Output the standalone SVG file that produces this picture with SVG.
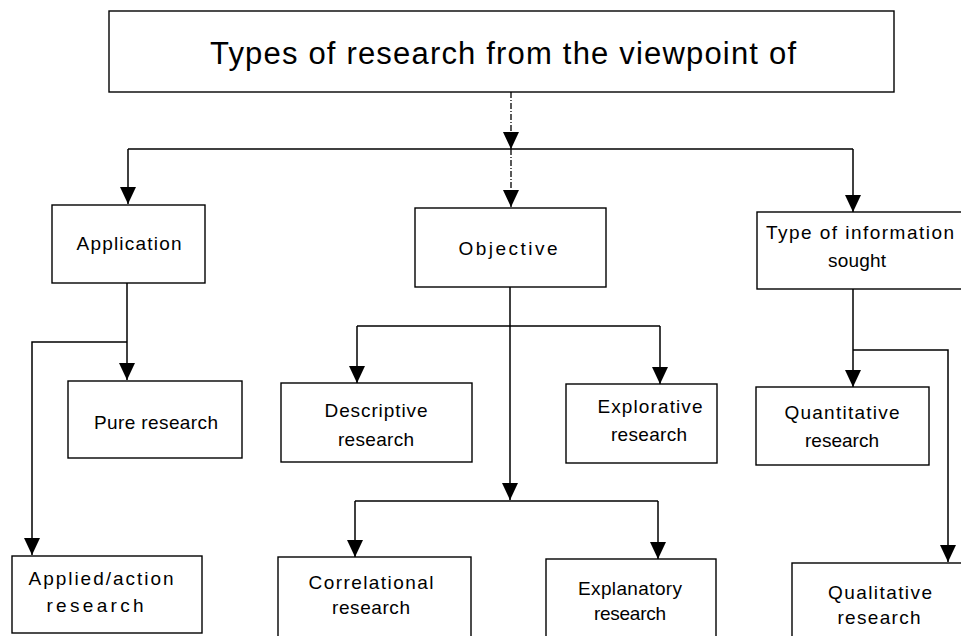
<svg xmlns="http://www.w3.org/2000/svg" width="961" height="636" viewBox="0 0 961 636">
<style>
.box{fill:#fff;stroke:#000;stroke-width:1.4}
.t{font-family:"Liberation Sans",Arial,sans-serif;font-size:19px;fill:#000;text-anchor:middle}
.title{font-family:"Liberation Sans",Arial,sans-serif;font-size:31px;fill:#000}
.c{fill:none;stroke:#000;stroke-width:1.5}
.d{fill:none;stroke:#000;stroke-width:1.3;stroke-dasharray:6 2 1 2}
</style>
<defs>
<marker id="ah" markerUnits="userSpaceOnUse" markerWidth="18" markerHeight="18" viewBox="0 0 18 18" refX="17" refY="9" orient="auto">
<path d="M0,1 L17,9 L0,17 Z" fill="#000"/>
</marker>
</defs>
<rect width="961" height="636" fill="#fff"/>
<g id="connectors">
<path class="d" d="M511,92 V149" marker-end="url(#ah)"/>
<path class="c" d="M128,149 H853"/>
<path class="c" d="M128,149 V204" marker-end="url(#ah)"/>
<path class="d" d="M511,149 V207" marker-end="url(#ah)"/>
<path class="c" d="M853,149 V212" marker-end="url(#ah)"/>
<path class="c" d="M127,283 V380" marker-end="url(#ah)"/>
<path class="c" d="M127,342 H32 V555" marker-end="url(#ah)"/>
<path class="c" d="M510,287 V500" marker-end="url(#ah)"/>
<path class="c" d="M357,326 H660"/>
<path class="c" d="M357,326 V383" marker-end="url(#ah)"/>
<path class="c" d="M660,326 V384" marker-end="url(#ah)"/>
<path class="c" d="M355,501 H658"/>
<path class="c" d="M355,501 V557" marker-end="url(#ah)"/>
<path class="c" d="M658,501 V559" marker-end="url(#ah)"/>
<path class="c" d="M853,289 V387" marker-end="url(#ah)"/>
<path class="c" d="M853,350 H948 V562" marker-end="url(#ah)"/>
</g>
<g id="title">
<rect class="box" x="109" y="11" width="785" height="81"/>
<text class="title" x="210" y="64" textLength="586" lengthAdjust="spacing">Types of research from the viewpoint of</text>
</g>
<g id="application">
<rect class="box" x="52" y="205" width="153" height="78"/>
<text class="t" x="129" y="250" textLength="105" lengthAdjust="spacing">Application</text>
</g>
<g id="objective">
<rect class="box" x="415" y="208" width="191" height="79"/>
<text class="t" x="508" y="255" textLength="99" lengthAdjust="spacing">Objective</text>
</g>
<g id="typeinfo">
<rect class="box" x="757" y="212" width="210" height="77"/>
<text class="t" x="860" y="239" textLength="188" lengthAdjust="spacing">Type of information</text>
<text class="t" x="857" y="267" textLength="58" lengthAdjust="spacing">sought</text>
</g>
<g id="pure">
<rect class="box" x="68" y="381" width="174" height="77"/>
<text class="t" x="156" y="429" textLength="124" lengthAdjust="spacing">Pure research</text>
</g>
<g id="descriptive">
<rect class="box" x="281" y="383" width="191" height="79"/>
<text class="t" x="376" y="417" textLength="103" lengthAdjust="spacing">Descriptive</text>
<text class="t" x="376" y="446" textLength="76" lengthAdjust="spacing">research</text>
</g>
<g id="explorative">
<rect class="box" x="566" y="384" width="151" height="79"/>
<text class="t" x="650" y="413" textLength="105" lengthAdjust="spacing">Explorative</text>
<text class="t" x="649" y="441" textLength="76" lengthAdjust="spacing">research</text>
</g>
<g id="quantitative">
<rect class="box" x="756" y="387" width="173" height="78"/>
<text class="t" x="842" y="419" textLength="115" lengthAdjust="spacing">Quantitative</text>
<text class="t" x="842" y="447" textLength="74" lengthAdjust="spacing">research</text>
</g>
<g id="applied">
<rect class="box" x="12" y="556" width="190" height="77"/>
<text class="t" x="101" y="585" textLength="145" lengthAdjust="spacing">Applied/action</text>
<text class="t" x="95" y="612" textLength="97" lengthAdjust="spacing">research</text>
</g>
<g id="correlational">
<rect class="box" x="278" y="557" width="193" height="90"/>
<text class="t" x="371" y="589" textLength="125" lengthAdjust="spacing">Correlational</text>
<text class="t" x="371" y="614" textLength="78" lengthAdjust="spacing">research</text>
</g>
<g id="explanatory">
<rect class="box" x="546" y="559" width="170" height="90"/>
<text class="t" x="630" y="595" textLength="104" lengthAdjust="spacing">Explanatory</text>
<text class="t" x="630" y="620" textLength="72" lengthAdjust="spacing">research</text>
</g>
<g id="qualitative">
<rect class="box" x="792" y="563" width="180" height="90"/>
<text class="t" x="880" y="599" textLength="104" lengthAdjust="spacing">Qualitative</text>
<text class="t" x="879" y="624" textLength="83" lengthAdjust="spacing">research</text>
</g>
</svg>
